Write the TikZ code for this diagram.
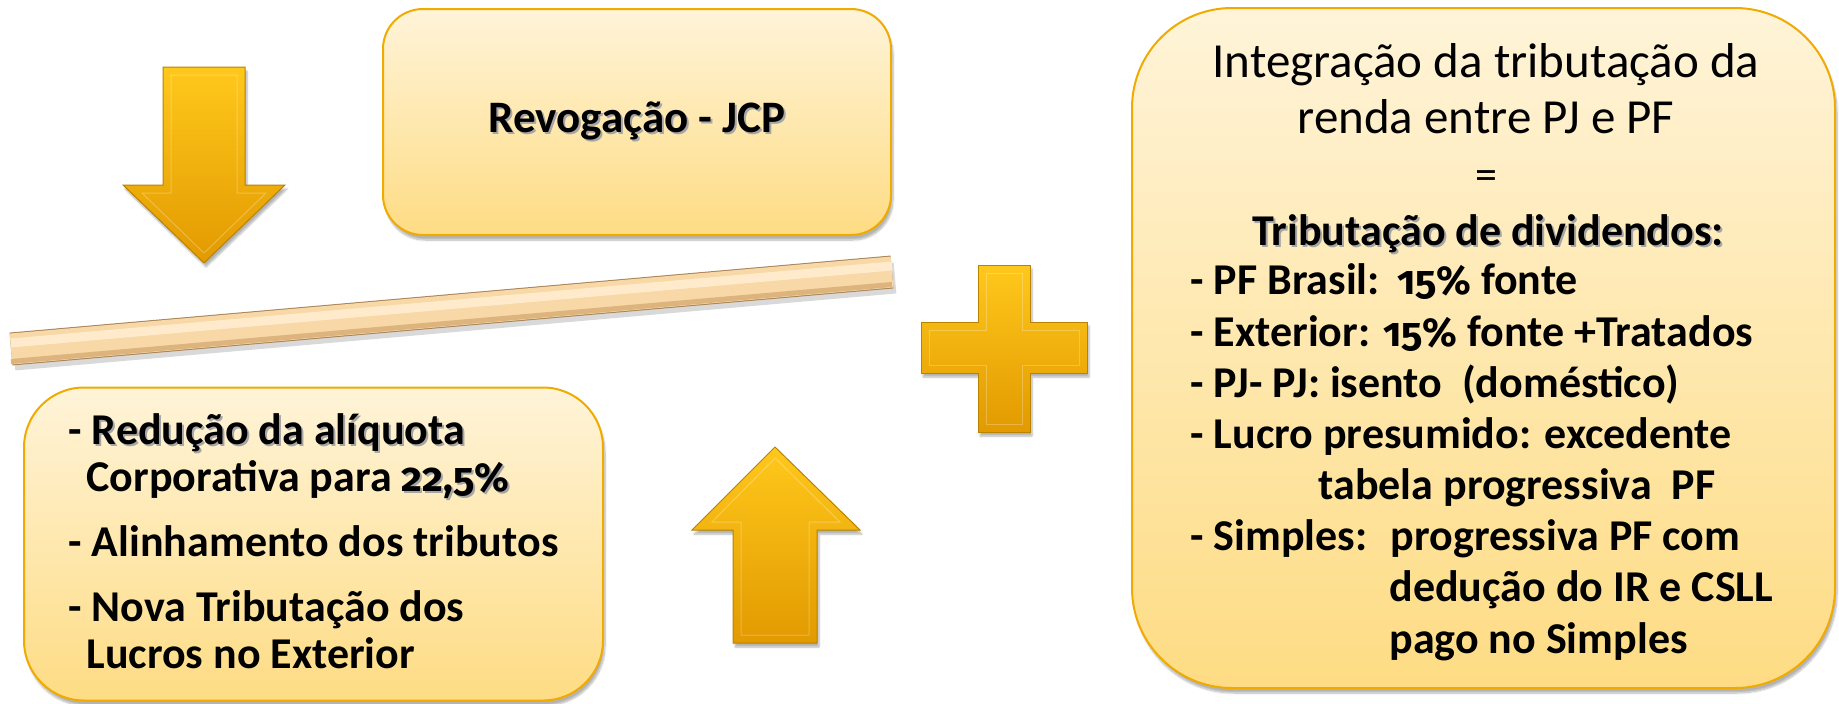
\documentclass[tikz,border=0pt]{standalone}
\usepackage{fontspec}
\setmainfont{Carlito}
\newfontfamily\firanum{Fira Sans}[Numbers=OldStyle, Scale=0.92]
\usetikzlibrary{shadows.blur}

\definecolor{boxtop}{HTML}{FFF4D9}
\definecolor{boxbot}{HTML}{FEDC84}
\definecolor{boxline}{HTML}{F0AA00}
\definecolor{goldtop}{HTML}{FFC81C}
\definecolor{goldbot}{HTML}{E29A00}
\definecolor{goldline}{HTML}{B88300}
\definecolor{planktop}{HTML}{FFEBCB}
\definecolor{plankmid}{HTML}{F7D8A6}
\definecolor{plankbot}{HTML}{DDB47E}
\definecolor{plankline}{HTML}{A88456}

% texto com sombra
\newcommand{\shd}[1]{\leavevmode\rlap{\hspace{2pt}\raisebox{-2pt}{\textcolor{black!35}{#1}}}#1}
% algarismos antigos
\newcommand{\num}[1]{{\firanum #1}}

\begin{document}
\begin{tikzpicture}[x=1pt, y=-1pt,
  box/.style = {draw=boxline, line width=2pt, top color=boxtop, bottom color=boxbot,
    blur shadow={shadow xshift=2pt, shadow yshift=-5pt, shadow blur steps=8, shadow opacity=30}},
  gold/.style = {draw=goldline, line width=1pt, top color=goldtop, bottom color=goldbot,
    blur shadow={shadow xshift=2pt, shadow yshift=-4pt, shadow blur steps=6, shadow opacity=30}},
  bevel/.style = {draw=white, opacity=.25, line width=1pt}]
\useasboundingbox (0,0) rectangle (1839,704);

% caixas
\node[box, minimum width=508, minimum height=226, rounded corners=40,
  font=\fontsize{45}{50}\selectfont\bfseries] (revog) at (637,122) {\shd{Revogação - JCP}};
\node[box, minimum width=579, minimum height=313, rounded corners=60] (reducao) at (313.5,544) {};
\node[box, minimum width=703, minimum height=680, rounded corners=100] (integra) at (1483.5,348) {};

% prancha inclinada
\coordinate (plankL) at (11,349);
\coordinate (plankR) at (892,272);
\draw[line width=31pt, black, opacity=.15] ([shift={(3,6)}]plankL) -- ([shift={(3,6)}]plankR);
\draw[line width=33pt, plankline] (plankL) -- (plankR);
\draw[line width=31pt, plankmid] (plankL) -- (plankR);
\draw[line width=9pt, planktop] ([yshift=6]plankL) -- ([yshift=6]plankR);
\draw[line width=5pt, plankbot] ([yshift=-12.5]plankL) -- ([yshift=-12.5]plankR);

% setas e sinal de mais
\path[gold] (163,67) -- (245,67) -- (245,185) -- (285,185) -- (204,263) -- (123,185) -- (163,185) -- cycle;
\path[bevel] (171,75) -- (237,75) -- (237,193) -- (266,193) -- (204,253) -- (142,193) -- (171,193) -- cycle;
\path[gold] (733,643) -- (733,530) -- (692,530) -- (775,447) -- (860,530) -- (817,530) -- (817,643) -- cycle;
\path[bevel] (741,635) -- (741,522) -- (712,522) -- (775,458) -- (840,522) -- (809,522) -- (809,635) -- cycle;
\path[gold] (978,265) -- (1030,265) -- (1030,322) -- (1087,322) -- (1087,373) -- (1030,373)
  -- (1030,432) -- (978,432) -- (978,373) -- (921,373) -- (921,322) -- (978,322) -- cycle;
\path[bevel] (986,273) -- (1022,273) -- (1022,330) -- (1079,330) -- (1079,365) -- (1022,365)
  -- (1022,424) -- (986,424) -- (986,365) -- (929,365) -- (929,330) -- (986,330) -- cycle;

% textos (ancora na linha de base da ultima linha)
\node[anchor=base west, align=left, font=\fontsize{44}{47}\selectfont\bfseries] (reducaotxt) at (65,668)
  {- \shd{Redução da alíquota}\\
   \hspace*{18pt}Corporativa para \shd{\num{22,5\%}}\\[18pt]
   - Alinhamento dos tributos\\[18pt]
   - Nova Tributação dos\\
   \hspace*{18pt}Lucros no Exterior};

\node[anchor=base, align=center, font=\fontsize{49}{56}\selectfont] (integtxt) at (1486,133)
  {Integração da tributação da\\renda entre PJ e PF};
\node[font=\fontsize{44}{44}\selectfont] (igual) at (1486,180) {=};
\node[anchor=base, font=\fontsize{44}{44}\selectfont\bfseries] (dividtxt) at (1488,245)
  {\shd{Tributação de dividendos:}};
\node[anchor=base west, align=left, font=\fontsize{44}{51.15}\selectfont\bfseries] (listatxt) at (1187,653)
  {- PF Brasil:\ \,\num{15\%} fonte\\
   - Exterior: \num{15\%} fonte +Tratados\\
   - PJ- PJ: isento~ (doméstico)\\
   - Lucro presumido: excedente\\
   \hspace*{128pt}tabela progressiva~ PF\\
   - Simples:~ progressiva PF com\\
   \hspace*{199pt}dedução do IR e CSLL\\
   \hspace*{199pt}pago no Simples};
\end{tikzpicture}
\end{document}
